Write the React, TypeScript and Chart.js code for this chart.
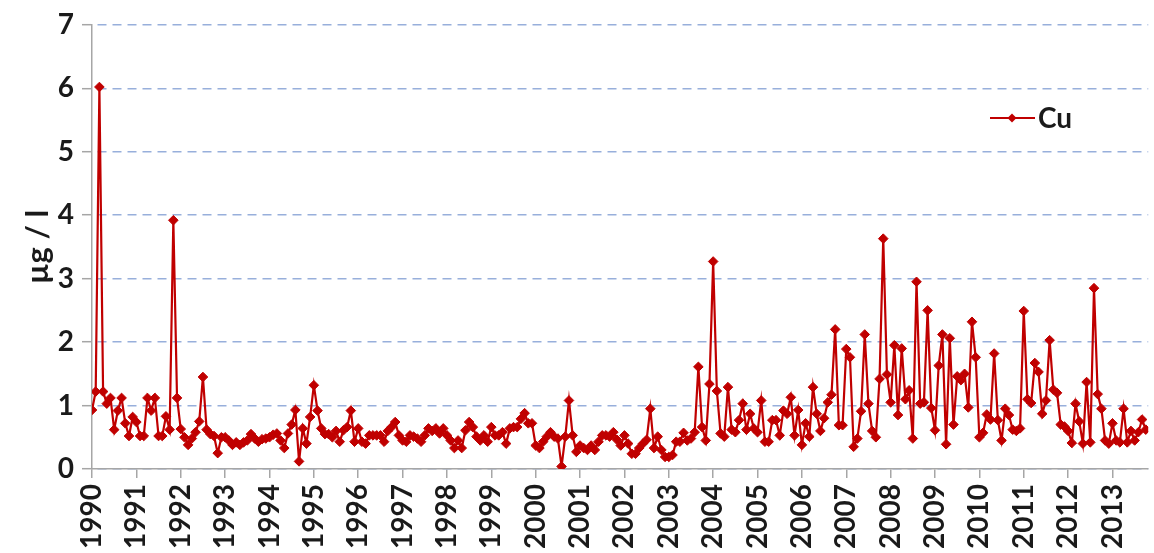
import { useEffect, useRef } from 'react';
import { Chart, registerables } from 'chart.js';

Chart.register(...registerables);

// ---- data ----
const seriesName = 'Cu';
const startYear = 1990; // first monthly sample: Jan 1990
const yearTicks = [
  1990, 1991, 1992, 1993, 1994, 1995, 1996, 1997, 1998, 1999, 2000, 2001,
  2002, 2003, 2004, 2005, 2006, 2007, 2008, 2009, 2010, 2011, 2012, 2013,
];
const valueTicks = [0, 1, 2, 3, 4, 5, 6, 7];
// monthly Cu concentrations (µg / l)
const cuValues = [
  0.93, 1.22, 6.02, 1.22, 1.03, 1.12, 0.62, 0.92, 1.12, 0.72, 0.52, 0.82,
  0.74, 0.52, 0.52, 1.12, 0.92, 1.12, 0.52, 0.52, 0.83, 0.62, 3.92, 1.12,
  0.63, 0.5, 0.38, 0.48, 0.58, 0.75, 1.45, 0.62, 0.55, 0.52, 0.25, 0.5,
  0.5, 0.45, 0.38, 0.42, 0.38, 0.42, 0.45, 0.55, 0.48, 0.43, 0.47, 0.48,
  0.5, 0.54, 0.56, 0.45, 0.33, 0.56, 0.7, 0.93, 0.12, 0.64, 0.4, 0.82,
  1.32, 0.92, 0.64, 0.55, 0.55, 0.5, 0.6, 0.43, 0.61, 0.66, 0.92, 0.43,
  0.64, 0.43, 0.4, 0.53, 0.53, 0.53, 0.53, 0.43, 0.6, 0.66, 0.74, 0.53,
  0.45, 0.43, 0.53, 0.51, 0.48, 0.43, 0.53, 0.64, 0.6, 0.64, 0.56, 0.64,
  0.53, 0.45, 0.33, 0.45, 0.33, 0.61, 0.74, 0.66, 0.51, 0.45, 0.53, 0.43,
  0.66, 0.53, 0.53, 0.58, 0.4, 0.64, 0.66, 0.66, 0.79, 0.88, 0.72, 0.72,
  0.37, 0.33, 0.43, 0.51, 0.58, 0.51, 0.48, 0.04, 0.51, 1.08, 0.53, 0.27,
  0.37, 0.33, 0.3, 0.37, 0.3, 0.43, 0.53, 0.53, 0.51, 0.58, 0.46, 0.37,
  0.53, 0.4, 0.24, 0.24, 0.33, 0.4, 0.46, 0.95, 0.33, 0.51, 0.3, 0.19,
  0.19, 0.22, 0.43, 0.43, 0.57, 0.45, 0.48, 0.58, 1.61, 0.66, 0.45, 1.34,
  3.27, 1.23, 0.56, 0.51, 1.29, 0.62, 0.58, 0.77, 1.03, 0.62, 0.87, 0.64,
  0.58, 1.08, 0.43, 0.43, 0.77, 0.77, 0.53, 0.92, 0.87, 1.13, 0.53, 0.93,
  0.38, 0.72, 0.51, 1.29, 0.87, 0.6, 0.8, 1.05, 1.17, 2.2, 0.69, 0.69,
  1.89, 1.76, 0.35, 0.48, 0.91, 2.12, 1.03, 0.6, 0.5, 1.42, 3.63, 1.49,
  1.05, 1.95, 0.85, 1.9, 1.1, 1.24, 0.48, 2.95, 1.03, 1.05, 2.5, 0.96,
  0.61, 1.63, 2.12, 0.39, 2.06, 0.7, 1.46, 1.4, 1.5, 0.97, 2.32, 1.76,
  0.5, 0.57, 0.86, 0.78, 1.82, 0.77, 0.45, 0.95, 0.85, 0.62, 0.6, 0.64,
  2.49, 1.1, 1.04, 1.67, 1.53, 0.87, 1.08, 2.03, 1.25, 1.2, 0.7, 0.67,
  0.6, 0.41, 1.03, 0.75, 0.4, 1.37, 0.42, 2.85, 1.18, 0.95, 0.45, 0.4,
  0.72, 0.45, 0.42, 0.95, 0.42, 0.6, 0.45, 0.58, 0.78, 0.62,
];
const xAxisEnd = 2013.805; // visible end of the time axis

// ---- styles ----
const RED = '#c00000';
const TEXT = '#1a1a1a';
const AXIS = '#a6a6a6';
const GRID = '#98afdb';
const FONT = 'Lato';

const legendPlugin = {
  id: 'cuLegend',
  afterDraw(chart: any) {
    const ctx = chart.ctx as CanvasRenderingContext2D;
    const y = 118;
    ctx.save();
    ctx.strokeStyle = RED;
    ctx.lineWidth = 2.2;
    ctx.beginPath();
    ctx.moveTo(990, y);
    ctx.lineTo(1035, y);
    ctx.stroke();
    ctx.fillStyle = RED;
    ctx.beginPath();
    ctx.moveTo(1012, y - 4.5);
    ctx.lineTo(1016.5, y);
    ctx.lineTo(1012, y + 4.5);
    ctx.lineTo(1007.5, y);
    ctx.closePath();
    ctx.fill();
    ctx.fillStyle = TEXT;
    ctx.font = `bold 28px ${FONT}`;
    ctx.textBaseline = 'middle';
    ctx.textAlign = 'left';
    ctx.fillText(seriesName, 1038, y + 1);
    ctx.restore();
  },
};

export default function App() {
  const canvasRef = useRef<HTMLCanvasElement | null>(null);

  useEffect(() => {
    if (!canvasRef.current) return;
    const points = cuValues.map((v, i) => ({ x: startYear + i / 12, y: v }));
    const chart = new Chart(canvasRef.current, {
      type: 'line',
      data: {
        datasets: [
          {
            label: seriesName,
            data: points,
            borderColor: RED,
            backgroundColor: RED,
            borderWidth: 2.2,
            tension: 0,
            pointStyle: 'rectRot',
            pointRadius: 4.8,
            pointBackgroundColor: RED,
            pointBorderColor: RED,
            pointBorderWidth: 1,
          },
        ],
      },
      options: {
        responsive: false,
        animation: false,
        layout: { padding: { top: 22, right: 0, bottom: 0, left: 0 } },
        plugins: {
          legend: { display: false },
          tooltip: { enabled: false },
        },
        scales: {
          x: {
            type: 'linear',
            min: startYear,
            max: xAxisEnd,
            afterBuildTicks: (scale: any) => {
              scale.ticks = yearTicks.map((v) => ({ value: v }));
            },
            afterFit: (scale: any) => {
              scale.height = 84;
            },
            grid: {
              drawOnChartArea: false,
              drawTicks: true,
              tickLength: 9,
              color: AXIS,
              lineWidth: 1.5,
            },
            border: { display: true, color: AXIS, width: 1.5 },
            ticks: {
              autoSkip: false,
              minRotation: 90,
              maxRotation: 90,
              padding: 6,
              color: TEXT,
              font: { family: FONT, size: 28, weight: 'bold' },
              callback: (v: any) => String(v),
            },
          },
          y: {
            type: 'linear',
            min: 0,
            max: 7,
            afterBuildTicks: (scale: any) => {
              scale.ticks = valueTicks.map((v) => ({ value: v }));
            },
            afterFit: (scale: any) => {
              scale.width = 92;
            },
            title: {
              display: true,
              text: 'µg / l',
              color: TEXT,
              font: { family: FONT, size: 31, weight: 'bold' },
              padding: { top: 19, bottom: 0 },
            },
            grid: {
              color: GRID,
              lineWidth: 1.4,
              tickLength: 10,
              tickColor: AXIS,
              tickWidth: 1.5,
              tickBorderDash: [],
            },
            border: { display: true, color: AXIS, width: 1.5, dash: [9, 6], dashOffset: 10 },
            ticks: {
              padding: 8,
              color: TEXT,
              font: { family: FONT, size: 28, weight: 'bold' },
              callback: (v: any) => String(v),
            },
          },
        },
      },
      plugins: [legendPlugin],
    } as any);
    return () => chart.destroy();
  }, []);

  return (
    <div style={{ position: 'absolute', left: 0, top: 0, width: 1154, height: 553, background: '#fff' }}>
      <canvas ref={canvasRef} width={1154} height={553} style={{ display: 'block' }} />
    </div>
  );
}
